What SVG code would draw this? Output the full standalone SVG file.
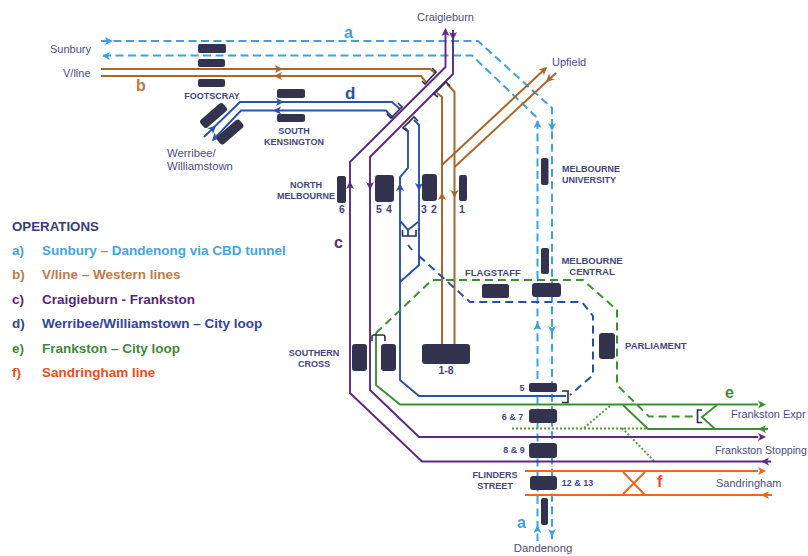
<svg xmlns="http://www.w3.org/2000/svg" width="808" height="556" viewBox="0 0 808 556">
<style>
.l{fill:none;stroke-linejoin:miter}
.a{stroke:#3ba3e4;stroke-width:2;stroke-dasharray:8 4.5}
.b{stroke:#ad6629;stroke-width:2}
.c{stroke:#5c2a83;stroke-width:1.9}
.d{stroke:#2b52a8;stroke-width:1.9}
.dd{stroke:#2b4ea3;stroke-width:2;stroke-dasharray:8 5}
.e{stroke:#3b9130;stroke-width:1.9}
.ed{stroke:#3b9130;stroke-width:2;stroke-dasharray:8 5}
.eo{stroke:#55a030;stroke-width:2;stroke-dasharray:2 2}
.f{stroke:#f0651f;stroke-width:2}
.k{stroke:#2c2c4c;stroke-width:1.6}
.fa{fill:#3ba3e4}.fb{fill:#ad6629}.fc{fill:#5c2a83}.fd{fill:#2b52a8}.fe{fill:#3b9130}.ff{fill:#f0651f}
.s{fill:#33334f}
text{font-family:"Liberation Sans",Arial,sans-serif}
.n{font-size:11px;fill:#4c4c85}
.t{font-size:9px;font-weight:bold;fill:#45457c;text-anchor:middle}
.num{font-size:10.500px;font-weight:bold;fill:#45457c;text-anchor:middle}
.h{font-size:9.500px;font-weight:bold;fill:#45457c}
.m{text-anchor:middle}
.g{font-size:13.500px;font-weight:bold}
.r{font-size:16px;font-weight:bold}
</style>
<defs>
<path id="ah" d="M0,0 L-8,-4 L-6,0 L-8,4 Z"/>
</defs>
<g id="connectors">
<g id="line-a">
<path class="l a" d="M101,41 H478 L552,108 V541"/>
<path class="l a" d="M103,55.5 H472 L537.5,118 V541"/>
<use href="#ah" class="fa" transform="translate(113,41)"/>
<use href="#ah" class="fa" transform="translate(102,56) rotate(180)"/>
<use href="#ah" class="fa" transform="translate(537.5,120) rotate(-90)"/>
<use href="#ah" class="fa" transform="translate(552,131) rotate(90)"/>
<use href="#ah" class="fa" transform="translate(537.5,322) rotate(-90)"/>
<use href="#ah" class="fa" transform="translate(552,334) rotate(90)"/>
<use href="#ah" class="fa" transform="translate(537.5,525) rotate(-90)"/>
<use href="#ah" class="fa" transform="translate(552,537) rotate(90)"/>
</g>
<g id="line-b">
<path class="l b" d="M101,69 H430 L435,73"/>
<path class="l b" d="M101,76 H421 L426,82"/>
<path class="l b" d="M437,93 L442,97 V345"/>
<path class="l b" d="M447,84 L454.5,92 V345"/>
<path class="l b" d="M442,165 L546,68"/>
<path class="l b" d="M454.5,167 L556,73"/>
<use href="#ah" class="fb" transform="translate(283,69)"/>
<use href="#ah" class="fb" transform="translate(274,76) rotate(180)"/>
<use href="#ah" class="fb" transform="translate(442,192) rotate(-90)"/>
<use href="#ah" class="fb" transform="translate(454.5,198) rotate(90)"/>
<use href="#ah" class="fb" transform="translate(547,67) rotate(-43)"/>
<use href="#ah" class="fb" transform="translate(546,82) rotate(137)"/>
</g>
<g id="line-d">
<path class="l d" d="M204,137 L240,102 H392 L400,109"/>
<path class="l d" d="M213,140 L241,110.5 H386 L393,118"/>
<path class="l d" d="M405,128 L408,131 V168 L400,177 V380 L419,396 H566"/>
<path class="l d" d="M414,120 L419,125 V265 L400,282"/>
<path class="l d" d="M400,221 L408,230 L418,222 M408,230 V236"/>
<path class="l dd" d="M408,245 L412,250"/>
<path class="l dd" d="M419,256 L470,302 H582 L593,316 V375 L570,395"/>
<use href="#ah" class="fd" transform="translate(216,125.500) rotate(-44)"/>
<use href="#ah" class="fd" transform="translate(212,141) rotate(134)"/>
<use href="#ah" class="fd" transform="translate(284,102)"/>
<use href="#ah" class="fd" transform="translate(273,110.5) rotate(180)"/>
<use href="#ah" class="fd" transform="translate(400,183) rotate(-90)"/>
<use href="#ah" class="fd" transform="translate(419,191) rotate(90)"/>
</g>
<g id="line-e">
<path class="l e" d="M376,333 V385 L400,404.5 H758"/>
<path class="l e" d="M623,405 L648,429 H768"/>
<path class="l e" d="M717,405 L702,417 L715,429"/>
<path class="l ed" d="M376,333 L432,280 H583 L617,310 V385 L649,416.5 H695"/>
<path class="l eo" d="M512,428.5 H648"/>
<path class="l eo" d="M584,428 L611,405"/>
<path class="l eo" d="M622,428 L655,462"/>
<use href="#ah" class="fe" transform="translate(766,404.5)"/>
<use href="#ah" class="fe" transform="translate(758,429) rotate(180)"/>
</g>
<g id="line-c">
<path class="l c" d="M445.5,30 V67 L350,162 V393 L422,461.5 H771"/>
<path class="l c" d="M453,30 V74 L370,157 V390 L419,437 H758"/>
<use href="#ah" class="fc" transform="translate(445.5,28) rotate(-90)"/>
<use href="#ah" class="fc" transform="translate(453,40) rotate(90)"/>
<use href="#ah" class="fc" transform="translate(350,181) rotate(-90)"/>
<use href="#ah" class="fc" transform="translate(370,190) rotate(90)"/>
<use href="#ah" class="fc" transform="translate(766,437)"/>
<use href="#ah" class="fc" transform="translate(761,461.5) rotate(180)"/>
</g>
<g id="line-f">
<path class="l f" d="M525,471 H758"/>
<path class="l f" d="M525,495 H772"/>
<path class="l f" d="M623,472 L645,495 M645,472 L623,494"/>
<use href="#ah" class="ff" transform="translate(766,471)"/>
<use href="#ah" class="ff" transform="translate(761,495) rotate(180)"/>
</g>
<g id="brackets">
<path class="l k" d="M422,81 L425,84 L436,72 L432,68"/>
<path class="l k" d="M387,114 L391,118 L402,107 L398,103"/>
<path class="l k" d="M438,97 L434,94 L446,82 L450,86"/>
<path class="l k" d="M407,131 L403,128 L414,117 L418,121"/>
<path class="l k" d="M402.5,230 V236 H416 V230"/>
<path class="l k" d="M372,341 V337 Q372,335 374,335 H383 Q385,335 385,337 V341"/>
<path class="l k" d="M562,391 H568 V402.5 H562"/>
<path class="l k" d="M702,410 H697.5 V422.5 H702"/>
</g>
</g>
<g id="footscray">
<rect class="s" x="198" y="44" width="28" height="9" rx="2"/>
<rect class="s" x="198" y="59" width="27" height="8" rx="2"/>
<rect class="s" x="198" y="79" width="27" height="8" rx="2"/>
<text class="t" x="212" y="99">FOOTSCRAY</text>
</g>
<g id="south-kensington">
<rect class="s" x="277" y="89" width="28" height="9" rx="2"/>
<rect class="s" x="277" y="114" width="28" height="8" rx="2"/>
<text class="t" x="294" y="134">SOUTH</text>
<text class="t" x="294" y="145">KENSINGTON</text>
</g>
<g id="werribee">
<rect class="s" x="-15" y="-5" width="30" height="10" rx="3" transform="translate(213.500,115.500) rotate(-41)"/>
<rect class="s" x="-15" y="-5" width="30" height="10" rx="3" transform="translate(230,132) rotate(-41)"/>
<text class="n" x="167" y="157" style="font-size:11.300px">Werribee/</text>
<text class="n" x="167" y="170" style="font-size:11.300px">Williamstown</text>
</g>
<g id="north-melbourne">
<rect class="s" x="337" y="176" width="9" height="27" rx="2"/>
<text class="t" x="306" y="188">NORTH</text>
<text class="t" x="306" y="199">MELBOURNE</text>
<text class="num" x="342" y="213">6</text>
</g>
<g id="platform-5-4">
<rect class="s" x="375" y="175" width="19" height="27" rx="3"/>
<text class="num" x="379" y="213">5</text>
<text class="num" x="389" y="213">4</text>
</g>
<g id="platform-3-2">
<rect class="s" x="422" y="174" width="15" height="27" rx="3"/>
<text class="num" x="424" y="213">3</text>
<text class="num" x="434" y="213">2</text>
</g>
<g id="platform-1">
<rect class="s" x="459" y="175" width="8" height="26" rx="2"/>
<text class="num" x="462" y="213">1</text>
</g>
<g id="flagstaff">
<rect class="s" x="482" y="284" width="27" height="14" rx="2"/>
<text class="h" x="465" y="276">FLAGSTAFF</text>
</g>
<g id="southern-cross">
<rect class="s" x="352" y="344" width="15" height="27" rx="3"/>
<rect class="s" x="381" y="344" width="15" height="27" rx="3"/>
<text class="t" x="314" y="356">SOUTHERN</text>
<text class="t" x="314" y="367">CROSS</text>
</g>
<g id="platform-1-8">
<rect class="s" x="422" y="344" width="48" height="20" rx="3"/>
<text class="num" x="446" y="374">1-8</text>
</g>
<g id="melbourne-university">
<rect class="s" x="541" y="158" width="7.500" height="27" rx="2"/>
<text class="h" x="562" y="172" style="font-size:9px">MELBOURNE</text>
<text class="h" x="562" y="183" style="font-size:9px">UNIVERSITY</text>
</g>
<g id="melbourne-central">
<rect class="s" x="541" y="248" width="8" height="26" rx="2"/>
<rect class="s" x="532" y="283" width="29" height="14" rx="3"/>
<text class="h m" x="592" y="264">MELBOURNE</text>
<text class="h m" x="592" y="275">CENTRAL</text>
</g>
<g id="parliament">
<rect class="s" x="599" y="333" width="16" height="26" rx="3"/>
<text class="h" x="625" y="349">PARLIAMENT</text>
</g>
<g id="flinders-5">
<rect class="s" x="529" y="383" width="28" height="9" rx="2"/>
<text class="t" x="522" y="391">5</text>
</g>
<g id="flinders-6-7">
<rect class="s" x="529" y="409" width="28" height="14" rx="3"/>
<text class="t" x="512.500" y="420">6 &amp; 7</text>
</g>
<g id="flinders-8-9">
<rect class="s" x="529" y="443" width="28" height="15" rx="3"/>
<text class="t" x="514" y="453">8 &amp; 9</text>
</g>
<g id="flinders-street">
<rect class="s" x="530" y="476" width="27" height="14" rx="3"/>
<text class="t" x="495" y="478">FLINDERS</text>
<text class="t" x="495" y="489">STREET</text>
<text class="t" x="577.500" y="486">12 &amp; 13</text>
</g>
<g id="south-bar">
<rect class="s" x="541" y="498" width="7" height="27" rx="2"/>
</g>
<g id="place-labels">
<text class="n m" x="445.500" y="21">Craigieburn</text>
<text class="n" x="50" y="53">Sunbury</text>
<text class="n" x="63" y="77">V/line</text>
<text class="n" x="552" y="66">Upfield</text>
<text class="n m" x="543" y="552" style="font-size:11.300px">Dandenong</text>
<text class="n" x="731" y="418">Frankston Expr</text>
<text class="n" x="715" y="454" style="font-size:10.600px">Frankston Stopping</text>
<text class="n" x="716" y="487">Sandringham</text>
</g>
<g id="line-letters">
<text class="r" x="344" y="38" style="fill:#3f9fe0">a</text>
<text class="r" x="136" y="91" style="fill:#c4743c">b</text>
<text class="r" x="334" y="248" style="fill:#5c2a83">c</text>
<text class="r" x="345" y="99" style="fill:#2b52a8;font-size:17px">d</text>
<text class="r" x="725" y="398" style="fill:#3b9130">e</text>
<text class="r" x="657" y="487" style="fill:#ee4d20">f</text>
<text class="r" x="517" y="528" style="fill:#3f9fe0">a</text>
</g>
<g id="legend">
<text x="12" y="231" style="font-size:13.300px;font-weight:bold;fill:#3b3b78">OPERATIONS</text>
<g style="fill:#45a5e0"><text class="g" x="12" y="255">a)</text><text class="g" x="42" y="255">Sunbury – Dandenong via CBD tunnel</text></g>
<g style="fill:#c27a4a"><text class="g" x="12" y="279">b)</text><text class="g" x="42" y="279">V/line – Western lines</text></g>
<g style="fill:#56287a"><text class="g" x="12" y="304">c)</text><text class="g" x="42" y="304">Craigieburn - Frankston</text></g>
<g style="fill:#33449c"><text class="g" x="12" y="328">d)</text><text class="g" x="42" y="328">Werribee/Williamstown – City loop</text></g>
<g style="fill:#3f8a3a"><text class="g" x="12" y="353">e)</text><text class="g" x="42" y="353">Frankston – City loop</text></g>
<g style="fill:#ee4d22"><text class="g" x="12" y="377">f)</text><text class="g" x="42" y="377">Sandringham line</text></g>
</g>
</svg>
